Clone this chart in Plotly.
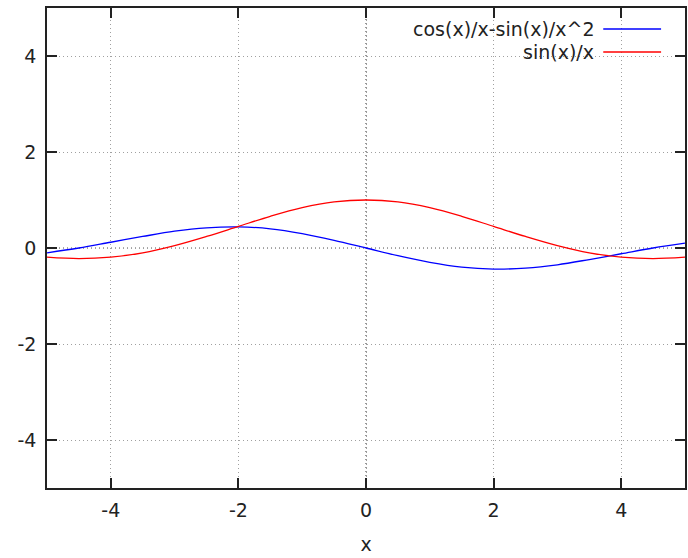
import plotly.graph_objects as go

# Sample points of the two curves
x_vals = [-5.0, -4.5, -4.0, -3.5, -3.0, -2.5, -2.0, -1.5, -1.0, -0.5, 0.0,
          0.5, 1.0, 1.5, 2.0, 2.5, 3.0, 3.5, 4.0, 4.5, 5.0]
sinc_vals = [-0.19, -0.22, -0.19, -0.10, 0.05, 0.24, 0.45, 0.66, 0.84, 0.96, 1.00,
             0.96, 0.84, 0.66, 0.45, 0.24, 0.05, -0.10, -0.19, -0.22, -0.19]
deriv_vals = [-0.10, 0.00, 0.12, 0.24, 0.35, 0.42, 0.44, 0.40, 0.30, 0.16, 0.00,
              -0.16, -0.30, -0.40, -0.44, -0.42, -0.35, -0.24, -0.12, 0.00, 0.10]

series_names = ["cos(x)/x-sin(x)/x^2", "sin(x)/x"]
series_colors = ["#0000ff", "#ff0000"]
tick_vals = [-4, -2, 0, 2, 4]

FONT = "DejaVu Sans"
FSIZE = 19

fig = go.Figure()
for name, ys, col in zip(series_names, [deriv_vals, sinc_vals], series_colors):
    fig.add_trace(go.Scatter(x=x_vals, y=ys, mode="lines", name=name,
                             line=dict(color=col, width=1.3, shape="spline", smoothing=1.0),
                             showlegend=False))

axis_common = dict(
    showline=True, linecolor="#222222", linewidth=1.5, mirror="ticks",
    ticks="inside", ticklen=10, tickwidth=1.5, tickcolor="#222222",
    showgrid=True, gridcolor="#a0a0a0", gridwidth=1, griddash="1px,3px",
    zeroline=False, tickvals=tick_vals, ticktext=[str(v) for v in tick_vals],
    tickfont=dict(family=FONT, size=FSIZE, color="#222222"),
)

fig.update_layout(
    width=688, height=558,
    margin=dict(l=47, r=1, t=8, b=70),
    plot_bgcolor="white", paper_bgcolor="white",
    xaxis=dict(range=[-5, 5], ticklabelstandoff=4,
               title=dict(text="x", font=dict(family=FONT, size=FSIZE, color="#222222"),
                          standoff=18), **axis_common),
    yaxis=dict(range=[-5, 5], ticklabelstandoff=5, **axis_common),
    showlegend=False,
)

# Zero axes (dotted, darker than grid)
fig.add_shape(type="line", xref="paper", yref="y", x0=0, x1=1, y0=0, y1=0,
              line=dict(color="#555555", width=1.2, dash="1px,3px"), layer="below")
fig.add_shape(type="line", xref="x", yref="paper", x0=0, x1=0, y0=0, y1=1,
              line=dict(color="#555555", width=1.2, dash="1px,3px"), layer="below")

# Key: text right-aligned, line sample to its right
key_y = [29, 52]
for name, col, py in zip(series_names, series_colors, key_y):
    yp = 1 - (py - 8) / 480.0
    fig.add_annotation(xref="paper", yref="paper", x=(598 - 47) / 640.0, y=yp,
                       text=name, showarrow=False, xanchor="right", yanchor="middle",
                       font=dict(family=FONT, size=FSIZE, color="#222222"))
    fig.add_shape(type="line", xref="paper", yref="paper",
                  x0=(605 - 47) / 640.0, x1=(663 - 47) / 640.0, y0=yp, y1=yp,
                  line=dict(color=col, width=1.3))

fig.write_html("out.html")
